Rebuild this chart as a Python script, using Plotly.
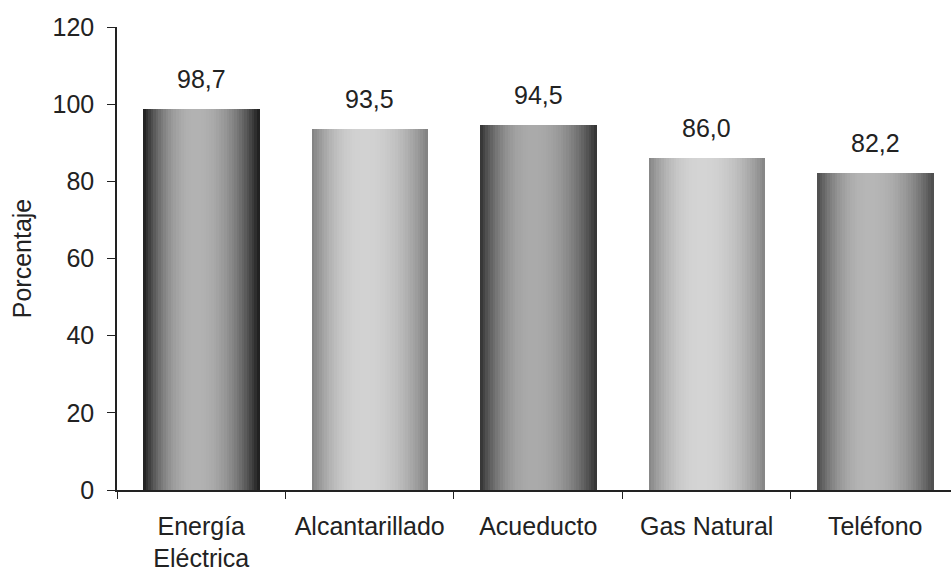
import plotly.graph_objects as go

# Cobertura de servicios públicos (%)
categorias = ["Energía<br>Eléctrica", "Alcantarillado", "Acueducto", "Gas Natural", "Teléfono"]
porcentajes = [98.7, 93.5, 94.5, 86.0, 82.2]
etiquetas = ["98,7", "93,5", "94,5", "86,0", "82,2"]
y_ticks = [0, 20, 40, 60, 80, 100, 120]

# Shading of each cylinder: grey level at the edges and at the highlight
gris_borde = [28, 128, 50, 132, 75]
gris_centro = [178, 210, 170, 212, 182]

BAR_W = 0.69
N_STRIPS = 46
PEAK = 0.45
FONT = "Liberation Sans, Arial, sans-serif"
INK = "#222222"


def grey(level):
    v = int(max(0, min(255, round(level))))
    return f"rgb({v},{v},{v})"


def shade(t, edge, center):
    # smooth cylinder profile with a highlight slightly left of centre
    if t <= PEAK:
        u = t / PEAK
    else:
        u = (1 - t) / (1 - PEAK)
    f = 1 - (1 - u) ** 2.2
    return edge + (center - edge) * f


fig = go.Figure()
step = BAR_W / N_STRIPS
for k in range(N_STRIPS):
    t = (k + 0.5) / N_STRIPS
    colors = [grey(shade(t, e, c)) for e, c in zip(gris_borde, gris_centro)]
    fig.add_trace(go.Bar(
        x=categorias,
        y=porcentajes,
        width=step * 1.08,
        offset=-BAR_W / 2 + k * step,
        marker=dict(color=colors, line=dict(width=0)),
        hoverinfo="skip",
        showlegend=False,
    ))

for cat, val, lab in zip(categorias, porcentajes, etiquetas):
    fig.add_annotation(
        x=cat, y=val, text=lab, showarrow=False,
        yanchor="bottom", yshift=14,
        font=dict(family=FONT, size=25, color=INK),
    )

fig.update_layout(
    width=951, height=573,
    margin=dict(l=117, r=0, t=27, b=83),
    paper_bgcolor="white", plot_bgcolor="white",
    barmode="overlay",
    bargap=0,
    font=dict(family=FONT, size=25, color=INK),
    showlegend=False,
)
fig.update_xaxes(
    range=[-0.5, 4.45],
    showline=True, linecolor=INK, linewidth=1.5,
    ticks="outside", tickson="boundaries", ticklen=7, tickcolor=INK,
    showgrid=False, zeroline=False, automargin=False,
    ticklabelstandoff=13,
    tickfont=dict(size=25),
)
fig.update_yaxes(
    range=[0, 120], tickvals=y_ticks,
    showline=True, linecolor=INK, linewidth=1.5,
    ticks="outside", ticklen=8, tickcolor=INK,
    showgrid=False, zeroline=False, automargin=False,
    ticklabelstandoff=8,
    title=dict(text="Porcentaje", font=dict(size=25), standoff=14),
    tickfont=dict(size=25),
)

fig.write_html("out.html")
